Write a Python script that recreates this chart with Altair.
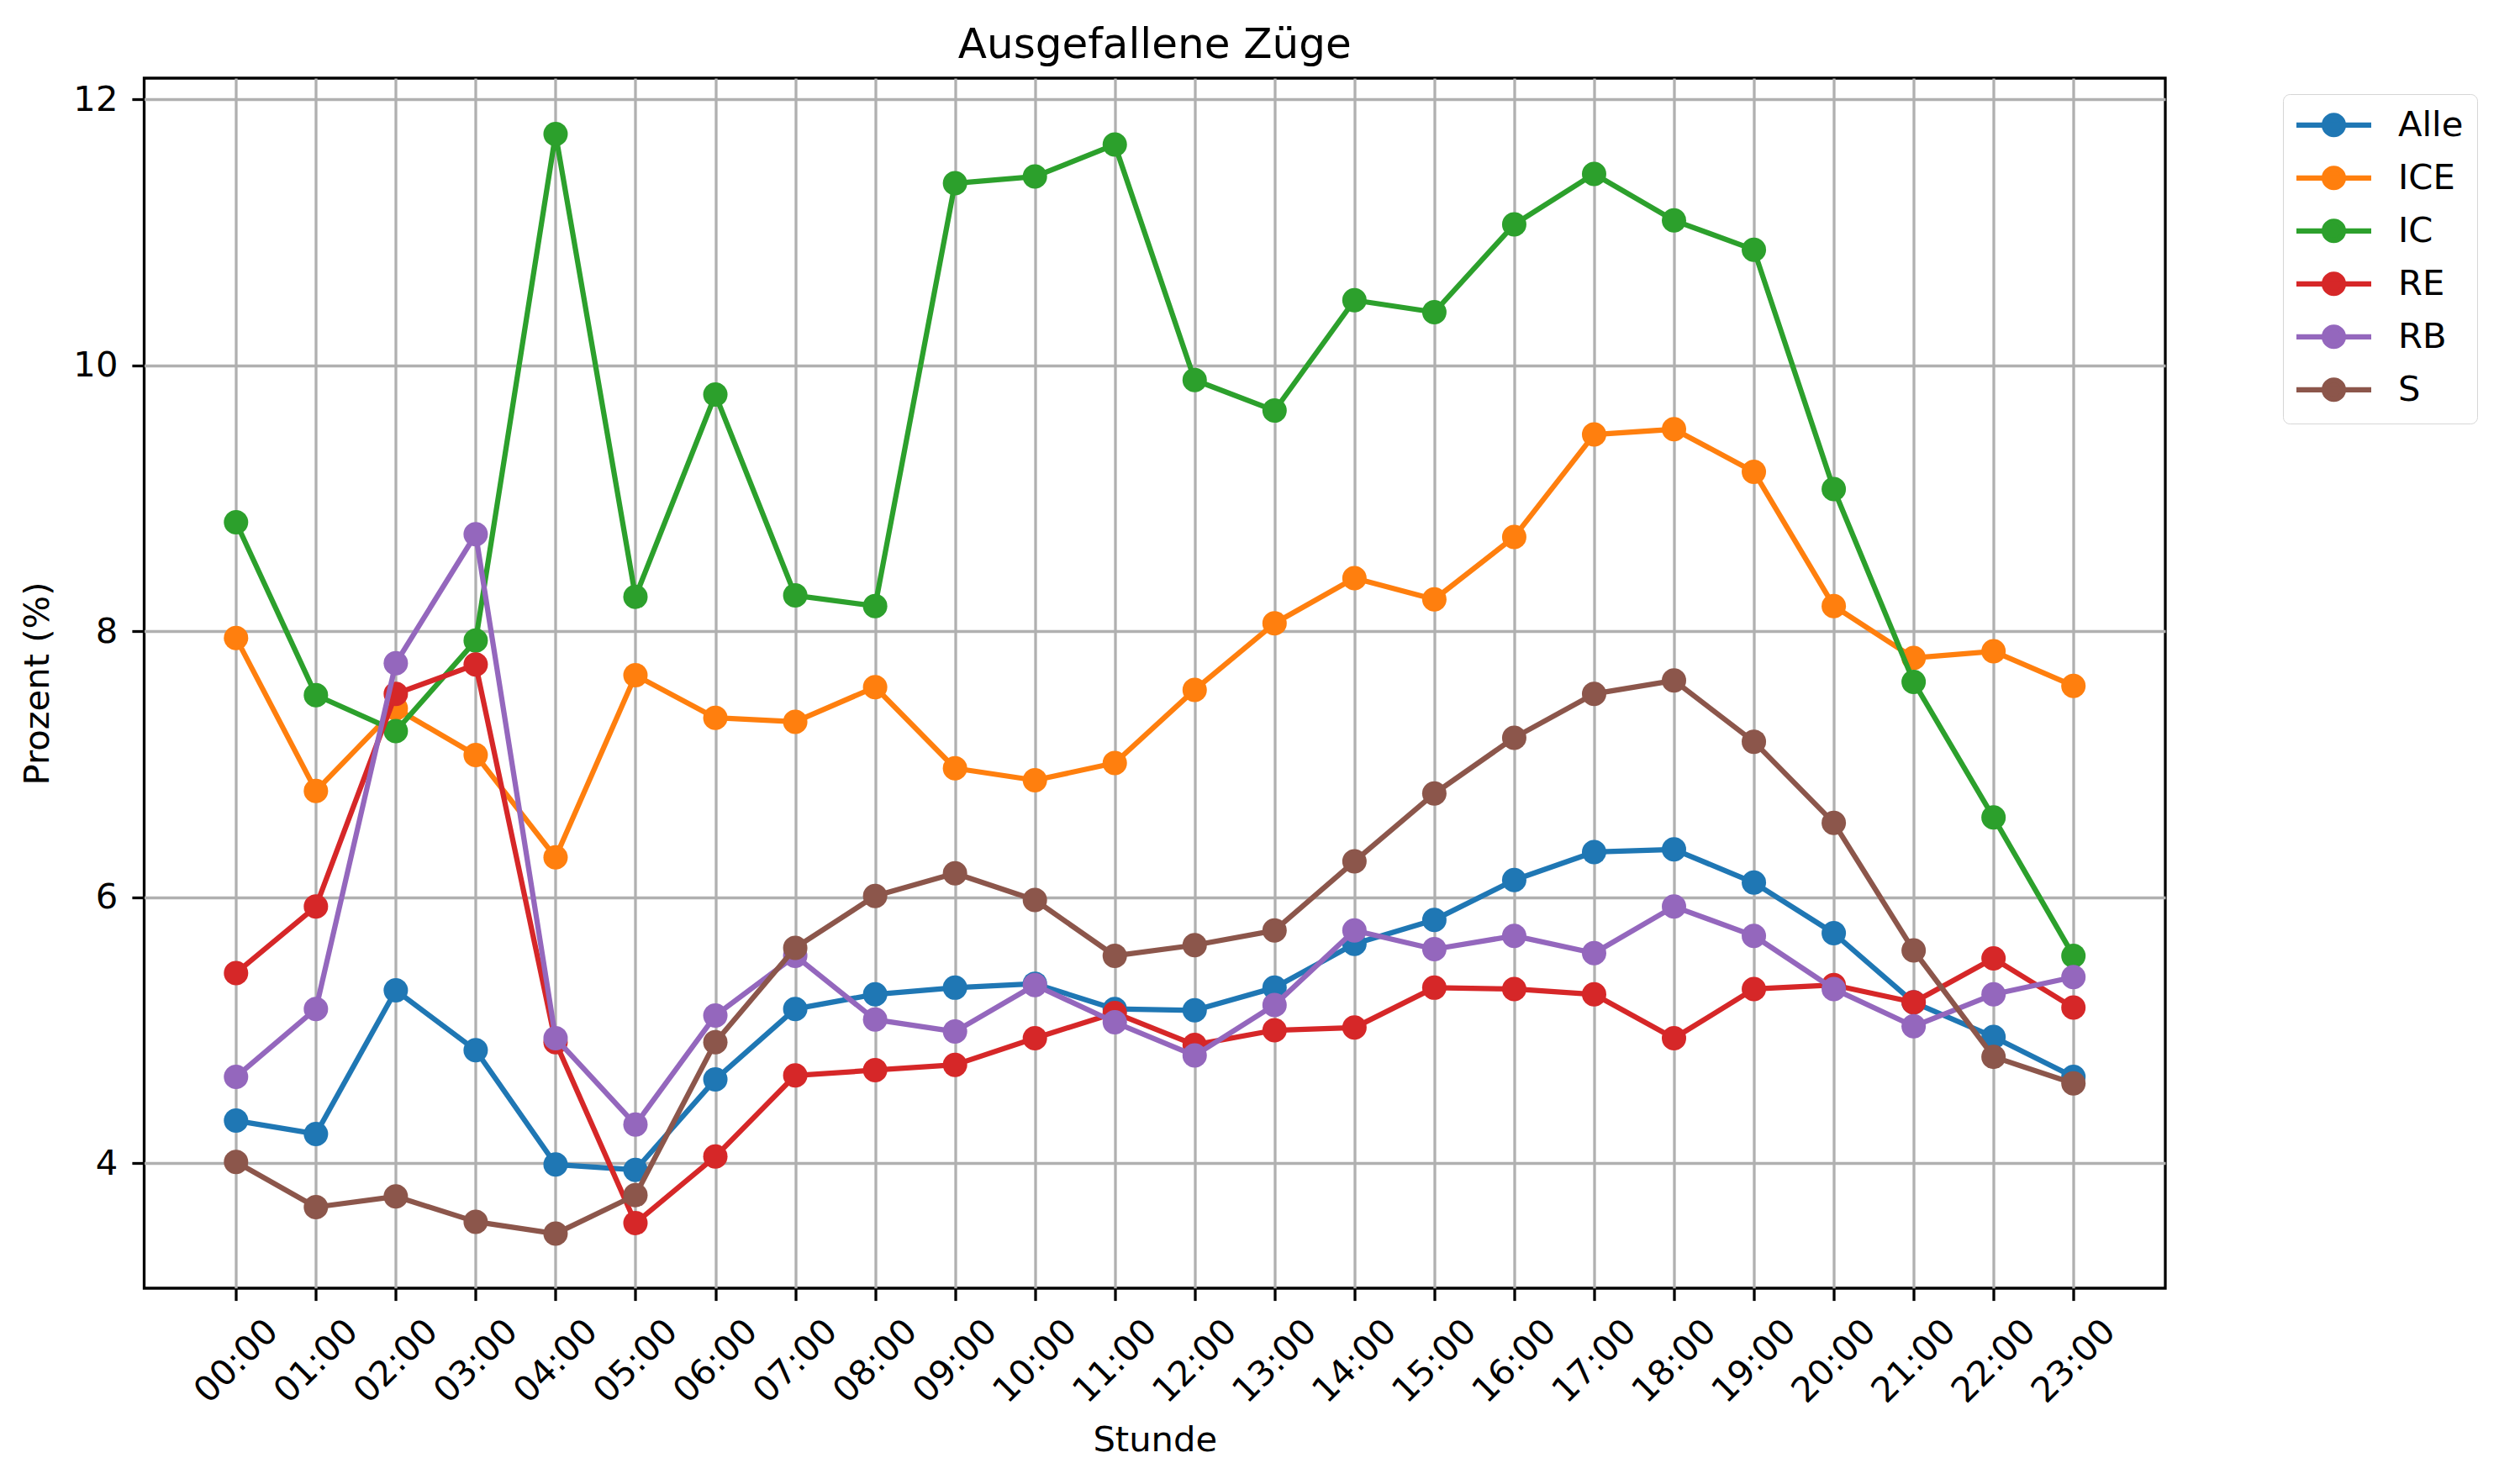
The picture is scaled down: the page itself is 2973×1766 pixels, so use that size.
import altair as alt
import pandas as pd

hours = [f"{h:02d}:00" for h in range(24)]

series_names = ["Alle", "ICE", "IC", "RE", "RB", "S"]
series_colors = ["#1f77b4", "#ff7f0e", "#2ca02c", "#d62728", "#9467bd", "#8c564b"]

alle = [4.32, 4.22, 5.30, 4.85, 3.99, 3.95, 4.63, 5.16, 5.27, 5.32, 5.35, 5.16,
        5.15, 5.32, 5.65, 5.83, 6.13, 6.34, 6.36, 6.11, 5.73, 5.21, 4.95, 4.65]
ice = [7.95, 6.80, 7.42, 7.07, 6.30, 7.67, 7.35, 7.32, 7.58, 6.97, 6.88, 7.01,
       7.56, 8.06, 8.40, 8.24, 8.71, 9.48, 9.52, 9.20, 8.19, 7.80, 7.85, 7.59]
ic = [8.82, 7.52, 7.25, 7.93, 11.74, 8.26, 9.78, 8.27, 8.19, 11.37, 11.42, 11.66,
      9.89, 9.66, 10.49, 10.40, 11.06, 11.44, 11.09, 10.87, 9.07, 7.62, 6.60, 5.56]
re = [5.43, 5.93, 7.53, 7.75, 4.91, 3.55, 4.05, 4.66, 4.70, 4.74, 4.94, 5.13,
      4.89, 5.00, 5.02, 5.32, 5.31, 5.27, 4.94, 5.31, 5.34, 5.21, 5.54, 5.17]
rb = [4.65, 5.16, 7.76, 8.73, 4.94, 4.29, 5.11, 5.56, 5.08, 4.99, 5.34, 5.06,
      4.81, 5.19, 5.75, 5.61, 5.71, 5.58, 5.93, 5.71, 5.31, 5.03, 5.27, 5.40]
s_bahn = [4.01, 3.67, 3.75, 3.56, 3.47, 3.76, 4.91, 5.62, 6.01, 6.18, 5.98, 5.56,
          5.64, 5.75, 6.27, 6.78, 7.20, 7.53, 7.63, 7.17, 6.56, 5.60, 4.80, 4.60]

y_ticks = [4, 6, 8, 10, 12]

values_by_series = [alle, ice, ic, re, rb, s_bahn]
rows = []
for name, vals in zip(series_names, values_by_series):
    for i, (h, v) in enumerate(zip(hours, vals)):
        rows.append({"idx": i, "Stunde": h, "Prozent": v, "Serie": name})
df = pd.DataFrame(rows)

FONT = "DejaVu Sans"
FS = 41.7
W = 2404.5
H = 1440

hour_labels_js = "[" + ",".join(f"'{h}'" for h in hours) + "]"

x_enc = alt.X(
    "idx:Q",
    scale=alt.Scale(domain=[-1.15, len(hours) - 1 + 1.15], nice=False, zero=False),
    axis=alt.Axis(
        title="Stunde", values=list(range(len(hours))),
        labelExpr=hour_labels_js + "[datum.value]",
        grid=True, gridColor="#b0b0b0", gridWidth=3.3,
        tickSize=14.6, tickWidth=3.3, tickColor="black", domain=False,
        labelAngle=-45, labelAlign="center", labelBaseline="middle",
        labelPadding=72, labelOverlap=False, labelBound=False, labelFlush=False,
        labelFont=FONT, labelFontSize=FS, labelColor="black",
        titleFont=FONT, titleFontSize=FS, titleFontWeight="normal",
        titleColor="black", titlePadding=16,
    ),
)
y_enc = alt.Y(
    "Prozent:Q",
    scale=alt.Scale(domain=[3.06, 12.16], nice=False, zero=False),
    axis=alt.Axis(
        title="Prozent (%)", values=y_ticks, format="d", grid=True,
        gridColor="#b0b0b0", gridWidth=3.3, tickSize=14.6, tickWidth=3.3,
        tickColor="black", domain=False, labelPadding=17,
        labelFont=FONT, labelFontSize=FS, labelColor="black",
        titleFont=FONT, titleFontSize=FS, titleFontWeight="normal",
        titleColor="black", titlePadding=20,
    ),
)
legend = alt.Legend(
    title=None, orient="none", legendX=2544.5, legendY=19,
    symbolType="M-3.069,0L3.069,0M0.786,0A0.786,0.786,0,1,1,-0.786,0A0.786,0.786,0,1,1,0.786,0Z",
    symbolSize=841, symbolStrokeWidth=6.25, symbolOffset=23.65,
    labelFont=FONT, labelFontSize=FS, labelColor="black", labelOffset=55.65,
    rowPadding=14, padding=16, strokeColor="#d6d6d6", fillColor="white",
    cornerRadius=8, labelLimit=400,
)
color_enc = alt.Color(
    "Serie:N",
    scale=alt.Scale(domain=series_names, range=series_colors),
    sort=series_names,
    legend=legend,
)

base = alt.Chart(df)
layers = []
for name in series_names:
    sub = base.transform_filter(alt.datum.Serie == name)
    layers.append(sub.mark_line(strokeWidth=6.25, strokeJoin="round").encode(x=x_enc, y=y_enc, color=color_enc))
    layers.append(sub.mark_point(filled=True, size=841, opacity=1).encode(x=x_enc, y=y_enc, color=color_enc))

chart = alt.layer(*layers).properties(
    width=W,
    height=H,
    padding={"left": 163.5, "top": 85, "right": 385, "bottom": 220},
    autosize=alt.AutoSizeParams(type="none"),
    title=alt.TitleParams(
        "Ausgefallene Züge", font=FONT, fontSize=50, fontWeight="normal",
        color="black", offset=14.5, anchor="middle",
    ),
    background="white",
).configure_view(stroke="black", strokeWidth=3.3)

chart.save("out.html", embed_options={"renderer": "svg", "actions": False})
